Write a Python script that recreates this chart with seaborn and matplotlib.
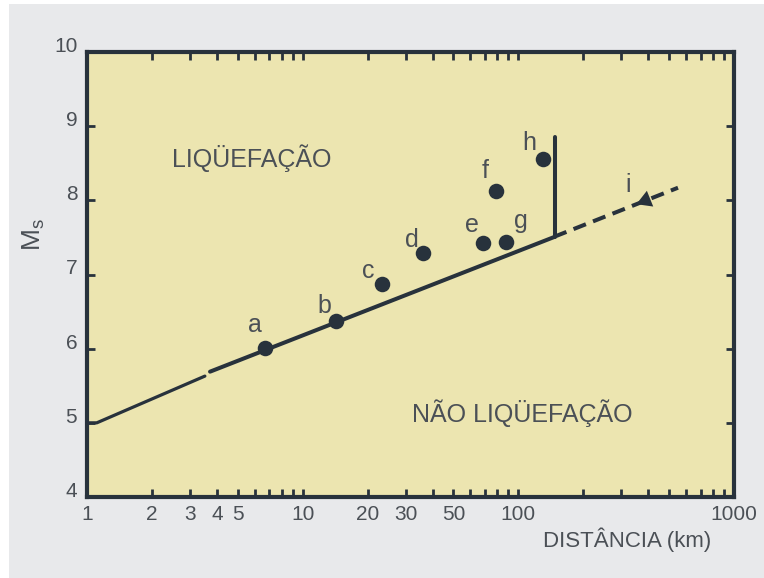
import matplotlib
matplotlib.use("Agg")
import matplotlib.pyplot as plt
from matplotlib.patches import Rectangle
import pandas as pd
import seaborn as sns

# sites (distance km, magnitude Ms)
site_labels = ['a', 'b', 'c', 'd', 'e', 'f', 'g', 'h']
site_dist = [6.7, 14.3, 23.3, 36.1, 68.5, 78.7, 87.6, 130]
site_ms = [6.01, 6.37, 6.87, 7.29, 7.42, 8.13, 7.44, 8.56]

# the 'i' triangle on the dashed extension
tri_label = 'i'
tri_dist = [386]
tri_ms = [8.0]

# boundary line
bound1_dist = [1.0, 1.11, 3.52]
bound1_ms = [5.0, 5.0, 5.63]
bound2_dist = [3.72, 148]
bound2_ms = [5.69, 7.51]
vert_dist = [148, 148]
vert_ms = [7.51, 8.85]
dash_dist = [150, 550]
dash_ms = [7.52, 8.17]

x_ticks = [1, 2, 3, 4, 5, 10, 20, 30, 50, 100, 1000]
x_minor = [6, 7, 8, 9, 40, 60, 70, 80, 90, 200, 300, 400, 500, 600, 700, 800, 900]
y_ticks = [4, 5, 6, 7, 8, 9, 10]

# label offsets in pixels relative to the marker
lab_off = {'a': (-10, 16), 'b': (-12, 8), 'c': (-14, 6), 'd': (-11, 6), 'e': (-11, 11),
           'f': (-11, 13), 'g': (15, 14), 'h': (-14, 9), 'i': (-17, 8)}

dark = '#28323c'
gray = '#4b5056'

sns.set_style("ticks")
plt.rcParams['font.family'] = ['Liberation Sans', 'DejaVu Sans']
plt.rcParams['mathtext.fontset'] = 'custom'
plt.rcParams['mathtext.rm'] = 'Liberation Sans'

fig = plt.figure(figsize=(7.64, 5.78), dpi=100, facecolor='white')
fig.add_artist(Rectangle((9 / 764, 0), 1, (578 - 4) / 578, transform=fig.transFigure,
                         facecolor='#e8e9eb', edgecolor='none', zorder=-10))
ax = fig.add_axes([87 / 764, 81 / 578, 647 / 764, 445 / 578])
ax.set_facecolor('#ece5b0')

df_sites = pd.DataFrame({'dist': site_dist, 'ms': site_ms, 'label': site_labels})

sns.lineplot(x=bound1_dist, y=bound1_ms, ax=ax, color=dark, lw=2.3, sort=False, estimator=None)
sns.lineplot(x=bound2_dist, y=bound2_ms, ax=ax, color=dark, lw=2.9, sort=False, estimator=None)
sns.lineplot(x=vert_dist, y=vert_ms, ax=ax, color=dark, lw=2.9, sort=False, estimator=None)
ax.plot(dash_dist, dash_ms, color=dark, lw=2.9, linestyle=(0.6, (3.3, 1.9)))
sns.scatterplot(data=df_sites, x='dist', y='ms', ax=ax, s=125, color=dark, edgecolor=dark,
                linewidth=0, zorder=5)
sns.scatterplot(x=tri_dist, y=tri_ms, ax=ax, marker=(3, 0, 112), s=200, color=dark,
                edgecolor=dark, linewidth=0, zorder=5)

for lab, xv, yv in zip(site_labels + [tri_label], site_dist + tri_dist, site_ms + tri_ms):
    ax.annotate(lab, (xv, yv), xytext=lab_off[lab], textcoords='offset pixels',
                ha='center', va='baseline', fontsize=18, color=gray)

ax.text(5.82, 8.45, 'LIQÜEFAÇÃO', ha='center', va='baseline', fontsize=18, color=gray)
ax.text(104, 5.01, 'NÃO LIQÜEFAÇÃO', ha='center', va='baseline', fontsize=18, color=gray)

ax.set_xscale('log')
ax.set_xlim(1, 1000)
ax.set_ylim(4, 10)
ax.set_xticks(x_ticks, [str(t) for t in x_ticks])
ax.set_xticks(x_minor, minor=True)
ax.set_yticks(y_ticks, [str(t) for t in y_ticks])
ax.tick_params(which='both', direction='in', length=6, width=2, top=True, right=True,
               color=dark, labelcolor=gray, labelsize=15)
ax.tick_params(axis='x', which='both', pad=6)
ax.tick_params(axis='y', pad=7)
ax.set_xticklabels([], minor=True)
for t in ax.get_yticklabels():
    t.set_va('baseline')
for s in ax.spines.values():
    s.set_linewidth(3)
    s.set_color(dark)

ax.set_xlabel('DISTÂNCIA (km)', fontsize=16, color=gray)
ax.xaxis.label.set_va('baseline')
ax.xaxis.set_label_coords(0.835, -0.112)
ax.set_ylabel(r'M$_{\mathregular{s}}$', fontsize=19, color=gray)
ax.yaxis.set_label_coords(-0.062, 0.59)

fig.savefig('out.png', dpi=100, facecolor=fig.get_facecolor())
